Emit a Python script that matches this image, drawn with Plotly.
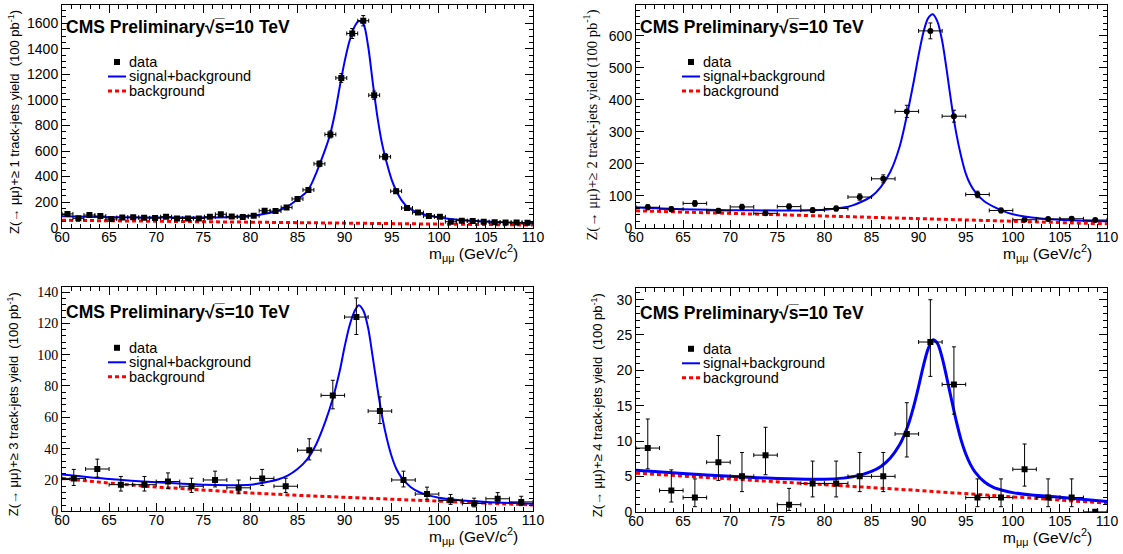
import plotly.graph_objects as go

W, H = 1123, 554

# ---------------- data ----------------
# Panel 1 (>=1 track-jets), 43 bins
x1 = [60.58, 61.74, 62.91, 64.07, 65.23, 66.40, 67.56, 68.72, 69.88, 71.05, 72.21,
      73.37, 74.53, 75.70, 76.86, 78.02, 79.19, 80.35, 81.51, 82.67, 83.84, 85.00,
      86.16, 87.33, 88.49, 89.65, 90.81, 91.98, 93.14, 94.30, 95.47, 96.63, 97.79,
      98.95, 100.12, 101.28, 102.44, 103.60, 104.77, 105.93, 107.09, 108.26, 109.42]
y1 = [108, 73, 99, 91, 68, 80, 82, 77, 75, 86, 72, 72, 72, 86, 105, 88, 83, 93, 133,
      130, 159, 225, 296, 500, 730, 1172, 1520, 1620, 1037, 555, 286, 154, 118, 91,
      85, 47, 55, 53, 47, 43, 41, 41, 39]
e1 = [10.4, 8.5, 9.9, 9.5, 8.2, 8.9, 9.1, 8.8, 8.7, 9.3, 8.5, 8.5, 8.5, 9.3, 10.2,
      9.4, 9.1, 9.6, 11.5, 11.4, 12.6, 15.0, 17.2, 22.4, 27.0, 34.2, 39.0, 40.2, 32.2,
      23.6, 16.9, 12.4, 10.9, 9.5, 9.2, 6.9, 7.4, 7.3, 6.9, 6.6, 6.4, 6.4, 6.2]
c1x = [60, 64, 68, 72, 76, 78, 80, 81, 82, 83, 84, 85, 86, 86.5, 87, 87.5, 88, 88.5,
       89, 89.5, 90, 90.5, 91, 91.5, 92, 92.5, 93, 93.5, 94, 94.5, 95, 95.5, 96, 96.5,
       97, 98, 99, 100, 102, 104, 107, 110]
c1y = [90, 84, 80, 79, 80, 84, 94, 102, 115, 135, 168, 222, 282, 345, 430, 525, 625,
       740, 905, 1110, 1300, 1455, 1565, 1618, 1595, 1420, 1130, 860, 650, 500, 375,
       287, 220, 175, 145, 113, 93, 80, 62, 52, 42, 34]
b1x = [60, 70, 80, 90, 100, 110]
b1y = [58, 51, 43, 35, 28, 21]

# Panels 2-4: 20 bins of 2.5 GeV
bins20 = [61.25, 63.75, 66.25, 68.75, 71.25, 73.75, 76.25, 78.75, 81.25, 83.75, 86.25,
          88.75, 91.25, 93.75, 96.25, 98.75, 101.25, 103.75, 106.25, 108.75]

y2 = [64, 58, 76, 53, 65, 45, 66, 55, 60, 96, 153, 364, 616, 349, 104, 54, 25, 27, 28, 24]
e2 = [8.0, 7.6, 8.7, 7.3, 8.1, 6.7, 8.1, 7.4, 7.7, 9.8, 12.4, 19.1, 24.8, 18.7, 10.2,
      7.3, 5.0, 5.2, 5.3, 4.9]
c2x = [60, 65, 70, 75, 78, 80, 82, 83, 84, 85, 86, 87, 88, 88.75, 89.5, 90, 90.5, 91,
       91.5, 92, 92.5, 93, 93.5, 94, 94.5, 95, 95.5, 96, 97, 98, 99, 100, 102, 105, 110]
c2y = [63, 58, 55, 54, 54, 56, 63, 70, 82, 98, 128, 175, 255, 350, 460, 540, 610, 655,
       668, 645, 585, 490, 385, 295, 225, 170, 135, 112, 82, 65, 52, 42, 32, 25, 20]
b2x = [60, 70, 80, 90, 100, 110]
b2y = [53, 45, 37, 29.5, 21, 12]

y3 = [21, 27, 17, 17, 19, 16, 20, 15, 21, 16, 39, 74, 124, 64, 20, 11, 7, 5, 8, 6]
up3 = [5.74, 6.29, 5.24, 5.24, 5.50, 5.10, 5.62, 4.96, 5.74, 5.10, 7.30, 9.65, 12.17,
       9.04, 5.62, 4.42, 3.77, 3.38, 3.94, 3.58]
dn3 = [4.55, 5.16, 4.08, 4.08, 4.32, 3.96, 4.44, 3.83, 4.55, 3.96, 6.22, 8.59, 11.12,
       7.98, 4.44, 3.26, 2.58, 2.16, 2.77, 2.38]
c3x = [60, 65, 70, 75, 78, 80, 82, 83, 84, 85, 86, 87, 88, 88.75, 89.5, 90, 90.5, 91,
       91.5, 92, 92.5, 93, 93.5, 94, 94.5, 95, 95.5, 96, 97, 98, 99, 100, 102, 105, 110]
c3y = [23.5, 20.6, 18.5, 17, 16.7, 17, 19, 20.5, 23, 27, 33, 43, 58, 72, 90, 105, 118,
       127, 131.5, 128, 117, 98, 78, 60, 46, 35, 27, 22, 15.5, 12, 10, 8.7, 7.2, 6, 4.8]
b3x = [60, 65, 70, 75, 80, 85, 90, 95, 100, 105, 110]
b3y = [21, 18, 15.5, 13.5, 11.7, 10.2, 8.9, 7.6, 6.4, 5.2, 4.0]

y4 = [9, 3, 2, 7, 5, 8, 1, 4, 4, 5, 5, 11, 24, 18, 2, 2, 6, 2, 2, 0]
up4 = [4.11, 2.92, 2.64, 3.77, 3.38, 3.94, 2.30, 3.16, 3.16, 3.38, 3.38, 4.42, 5.98,
       5.32, 2.64, 2.64, 3.58, 2.64, 2.64, 0]
dn4 = [2.94, 1.63, 1.29, 2.58, 2.16, 2.77, 0.83, 1.91, 1.91, 2.16, 2.16, 3.26, 4.86,
       4.20, 1.29, 1.29, 2.38, 1.29, 1.29, 0]
c4x = [60, 65, 70, 75, 78, 80, 82, 83, 84, 85, 86, 87, 88, 88.5, 89, 89.5, 90, 90.5, 91,
       91.5, 92, 92.5, 93, 93.5, 94, 94.5, 95, 95.5, 96, 97, 98, 99, 100, 102, 105, 110]
c4y = [5.85, 5.4, 5.0, 4.7, 4.6, 4.6, 4.75, 4.95, 5.25, 5.7, 6.4, 7.6, 9.5, 10.9, 12.7,
       15.0, 17.7, 20.6, 23.0, 24.3, 23.8, 21.8, 18.9, 15.8, 12.8, 10.2, 8.2, 6.7, 5.6,
       4.2, 3.4, 3.0, 2.7, 2.35, 2.05, 1.45]
b4x = [60, 70, 80, 90, 100, 110]
b4y = [5.45, 4.65, 3.85, 3.0, 2.1, 1.2]

x_ticks_range = [60, 110]
y_ranges = {1: [0, 1743], 2: [0, 697], 3: [0, 143], 4: [0, 31.6]}
y_dticks = {1: 200, 2: 100, 3: 20, 4: 5}
y_minor = {1: 50, 2: 20, 3: 4, 4: 1}
njets = {1: "1", 2: "2", 3: "3", 4: "4"}

# ---------------- layout geometry (pixels) ----------------
frames = {1: (62, 533, 5, 227.7), 2: (636, 1107, 5, 227.7),
          3: (62, 533, 287.3, 511.3), 4: (636, 1107, 288.3, 511.7)}

SANS = "Liberation Sans, Arial, Helvetica, sans-serif"
SERIF = "Liberation Serif, Times New Roman, serif"

def px(x):
    return x / W

def py(y):
    return 1 - y / H

fig = go.Figure()

panels = {
    1: dict(x=x1, y=y1, up=e1, dn=e1, xe=0.58, sym="square", cx=c1x, cy=c1y, bx=b1x, by=b1y, lw=2),
    2: dict(x=bins20, y=y2, up=e2, dn=e2, xe=1.25, sym="circle", cx=c2x, cy=c2y, bx=b2x, by=b2y, lw=2),
    3: dict(x=bins20, y=y3, up=up3, dn=dn3, xe=1.25, sym="square", cx=c3x, cy=c3y, bx=b3x, by=b3y, lw=2),
    4: dict(x=bins20, y=y4, up=up4, dn=dn4, xe=1.25, sym="square", cx=c4x, cy=c4y, bx=b4x, by=b4y, lw=3),
}

annotations = []
shapes = []

for i, p in panels.items():
    xa = "x" if i == 1 else f"x{i}"
    ya = "y" if i == 1 else f"y{i}"
    fig.add_trace(go.Scatter(x=p["bx"], y=p["by"], mode="lines", xaxis=xa, yaxis=ya,
                             line=dict(color="#ff0000", width=3, dash="4px,3px"),
                             showlegend=False, hoverinfo="skip"))
    fig.add_trace(go.Scatter(x=p["cx"], y=p["cy"], mode="lines", xaxis=xa, yaxis=ya,
                             line=dict(color="#0000ff", width=p["lw"], shape="spline", smoothing=0.8),
                             showlegend=False))
    fig.add_trace(go.Scatter(x=p["x"], y=p["y"], mode="markers", xaxis=xa, yaxis=ya,
                             marker=dict(symbol=p["sym"], size=6, color="black"),
                             error_y=dict(type="data", array=p["up"], arrayminus=p["dn"],
                                          symmetric=False, color="black", thickness=1, width=2),
                             error_x=dict(type="constant", value=p["xe"], color="black",
                                          thickness=1, width=2),
                             showlegend=False))

    l, r, t, b = frames[i]
    tickfont = dict(family=SANS, size=14, color="black")
    ytickfont = dict(family=SERIF if i == 3 else SANS, size=14, color="black")
    fig.layout["xaxis" if i == 1 else f"xaxis{i}"] = dict(
        domain=[px(l), px(r)], anchor=ya, range=x_ticks_range, tick0=60, dtick=5,
        ticks="inside", ticklen=8, tickcolor="black", showline=True, linecolor="black",
        linewidth=1, mirror="allticks", showgrid=False, zeroline=False, tickfont=tickfont,
        automargin=False, ticklabelstandoff=-4,
        minor=dict(dtick=1, ticks="inside", ticklen=4, tickcolor="black", showgrid=False))
    fig.layout["yaxis" if i == 1 else f"yaxis{i}"] = dict(
        domain=[py(b), py(t)], anchor=xa, range=y_ranges[i], tick0=0, dtick=y_dticks[i],
        ticks="inside", ticklen=8, tickcolor="black", showline=True, linecolor="black",
        linewidth=1, mirror="allticks", showgrid=False, zeroline=False, tickfont=ytickfont,
        automargin=False,
        minor=dict(dtick=y_minor[i], ticks="inside", ticklen=4, tickcolor="black", showgrid=False))

    top_off = 22 if i in (1, 2) else 24.5
    # CMS label
    annotations.append(dict(xref="paper", yref="paper", x=px(l + 2), y=py(t + top_off),
                            xanchor="left", yanchor="middle", showarrow=False,
                            text="<b>CMS Preliminary\u221as\u0305=10 TeV</b>",
                            font=dict(family=SANS, size=17.5, color="black")))
    # legend
    lo = 57 if i in (1, 2) else 60.5
    rows = [t + lo, t + lo + 14.5, t + lo + 29]
    labels = ["data", "signal+background", "background"]
    for yy, lab in zip(rows, labels):
        annotations.append(dict(xref="paper", yref="paper", x=px(l + 65), y=py(yy),
                                xanchor="left", yanchor="middle", showarrow=False, text=lab,
                                font=dict(family=SANS, size=14.5, color="black")))
    shapes.append(dict(type="rect", xref="paper", yref="paper",
                       x0=px(l + 52), x1=px(l + 58), y0=py(rows[0] - 3), y1=py(rows[0] + 3),
                       fillcolor="black", line=dict(width=0)))
    shapes.append(dict(type="line", xref="paper", yref="paper",
                       x0=px(l + 46), x1=px(l + 64), y0=py(rows[1]), y1=py(rows[1]),
                       line=dict(color="#0000ff", width=2)))
    shapes.append(dict(type="line", xref="paper", yref="paper",
                       x0=px(l + 46), x1=px(l + 64), y0=py(rows[2]), y1=py(rows[2]),
                       line=dict(color="#ff0000", width=3, dash="4px,3px")))
    # x title
    annotations.append(dict(xref="paper", yref="paper", x=px(r - 13), y=py(b + 25),
                            xanchor="right", yanchor="middle", showarrow=False,
                            text="m<sub>\u03bc\u03bc</sub> (GeV/c<sup>2</sup>)",
                            font=dict(family=SANS, size=15.5, color="black")))
    # y title
    ycx = {1: 14, 2: 591, 3: 13, 4: 597}[i]
    sep = " " if i == 2 else "  "
    annotations.append(dict(xref="paper", yref="paper", x=px(ycx), y=py(t + 3),
                            xanchor="center", yanchor="top", showarrow=False, textangle=-90,
                            text=f"Z(\u2192 \u03bc\u03bc)+\u2265 {njets[i]} track-jets yield{sep}(100 pb<sup>-1</sup>)",
                            font=dict(family=SERIF if i == 2 else SANS,
                                      size=14.5 if i == 2 else 13, color="black")))

fig.update_layout(width=W, height=H, margin=dict(l=0, r=0, t=0, b=0, autoexpand=False),
                  paper_bgcolor="white", plot_bgcolor="white", showlegend=False,
                  annotations=annotations, shapes=shapes)

fig.write_html("out.html", config={"displayModeBar": False},
               post_script="document.body.style.margin='0px';document.body.style.overflow='hidden';")
